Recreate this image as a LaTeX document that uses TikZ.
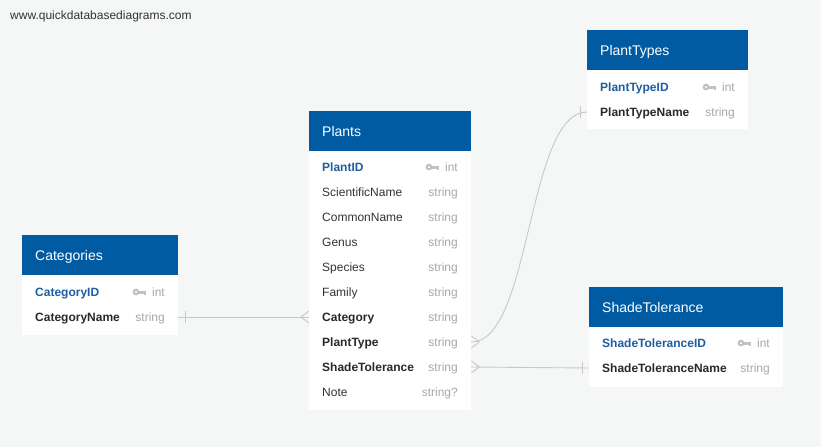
\documentclass[tikz,border=0pt]{standalone}
\usepackage{fontspec}
\setmainfont{Liberation Sans}
\usetikzlibrary{positioning, calc}
\definecolor{headblue}{RGB}{0,91,162}
\definecolor{keyblue}{RGB}{28,94,160}
\definecolor{fieldgray}{RGB}{51,51,51}
\definecolor{typegray}{RGB}{168,168,168}
\definecolor{linkgray}{RGB}{200,200,200}
\definecolor{canvas}{RGB}{245,246,246}
\definecolor{icongray}{RGB}{190,194,198}
\tikzset{
    tablehead/.style={rectangle, fill=headblue, anchor=north west, inner sep=0pt, minimum height=40pt},
    tablebody/.style={rectangle, fill=white, anchor=north west, inner sep=0pt},
    headtext/.style={anchor=west, inner sep=0pt, text=white, text height=10pt, text depth=0pt, font=\fontsize{14}{16}\selectfont},
    field/.style={anchor=west, inner sep=0pt, text=fieldgray, text height=8.6pt, text depth=0pt, font=\fontsize{12}{14}\selectfont},
    pkfield/.style={field, text=keyblue, font=\fontsize{12}{14}\selectfont\bfseries},
    fkfield/.style={field, text=fieldgray!80!black, font=\fontsize{12}{14}\selectfont\bfseries},
    ftype/.style={anchor=east, inner sep=0pt, text=typegray, text height=8.6pt, text depth=0pt, font=\fontsize{12}{14}\selectfont},
    link/.style={draw=linkgray, line width=0.9pt},
    keyicon/.pic={
        \fill[icongray] (-4,0) circle (3.4);
        \fill[white] (-4,0) circle (1.1);
        \fill[icongray] (-1.5,-1.5) rectangle (6.5,1.5);
        \fill[icongray] (3.6,1.5) rectangle (6.5,3.4);
    },
}

\begin{document}
\begin{tikzpicture}[x=1pt, y=-1pt]
    % canvas
    \fill[canvas] (0,0) rectangle (821,447);
    \node[anchor=west, inner sep=0pt, text=fieldgray, font=\fontsize{12}{14}\selectfont] (site) at (10,16) {www.quickdatabasediagrams.com};

    % Plants
    \node[tablehead, minimum width=162pt] (plantshead) at (309,111) {};
    \node[tablebody, minimum width=162pt, minimum height=259pt] (plantsbody) at (309,151) {};
    \node[headtext] (plantstitle) at (322,131) {Plants};
    \node[pkfield] (pid) at (322,167) {PlantID};
    \node[field] (psci) at (322,192) {ScientificName};
    \node[field] (pcom) at (322,217) {CommonName};
    \node[field] (pgen) at (322,242) {Genus};
    \node[field] (pspe) at (322,267) {Species};
    \node[field] (pfam) at (322,292) {Family};
    \node[fkfield] (pcat) at (322,317) {Category};
    \node[fkfield] (ptype) at (322,342) {PlantType};
    \node[fkfield] (pshade) at (322,367) {ShadeTolerance};
    \node[field] (pnote) at (322,392) {Note};
    \node[ftype] (pid-t) at (458,167) {int};
    \node[ftype] (psci-t) at (458,192) {string};
    \node[ftype] (pcom-t) at (458,217) {string};
    \node[ftype] (pgen-t) at (458,242) {string};
    \node[ftype] (pspe-t) at (458,267) {string};
    \node[ftype] (pfam-t) at (458,292) {string};
    \node[ftype] (pcat-t) at (458,317) {string};
    \node[ftype] (ptype-t) at (458,342) {string};
    \node[ftype] (pshade-t) at (458,367) {string};
    \node[ftype] (pnote-t) at (458,392) {string?};
    \pic at ([xshift=-12pt]pid-t.west) {keyicon};

    % Categories
    \node[tablehead, minimum width=156pt] (cathead) at (22,235) {};
    \node[tablebody, minimum width=156pt, minimum height=60pt] (catbody) at (22,275) {};
    \node[headtext] (cattitle) at (35,255) {Categories};
    \node[pkfield] (catid) at (35,292) {CategoryID};
    \node[fkfield] (catname) at (35,317) {CategoryName};
    \node[ftype] (catid-t) at (165,292) {int};
    \node[ftype] (catname-t) at (165,317) {string};
    \pic at ([xshift=-12pt]catid-t.west) {keyicon};

    % PlantTypes
    \node[tablehead, minimum width=161pt] (pthead) at (587,30) {};
    \node[tablebody, minimum width=161pt, minimum height=59pt] (ptbody) at (587,70) {};
    \node[headtext] (pttitle) at (600,50) {PlantTypes};
    \node[pkfield] (ptid) at (600,87) {PlantTypeID};
    \node[fkfield] (ptname) at (600,112) {PlantTypeName};
    \node[ftype] (ptid-t) at (735,87) {int};
    \node[ftype] (ptname-t) at (735,112) {string};
    \pic at ([xshift=-12pt]ptid-t.west) {keyicon};

    % ShadeTolerance
    \node[tablehead, minimum width=194pt] (sthead) at (589,287) {};
    \node[tablebody, minimum width=194pt, minimum height=60pt] (stbody) at (589,327) {};
    \node[headtext] (sttitle) at (602,307) {ShadeTolerance};
    \node[pkfield] (stid) at (602,343) {ShadeToleranceID};
    \node[fkfield] (stname) at (602,368) {ShadeToleranceName};
    \node[ftype] (stid-t) at (770,343) {int};
    \node[ftype] (stname-t) at (770,368) {string};
    \pic at ([xshift=-12pt]stid-t.west) {keyicon};

    % Categories -> Plants
    \draw[link] (catbody.east |- catname.center) coordinate (c1) -- (plantsbody.west |- pcat.center) coordinate (c2);
    \draw[link] ([xshift=7pt]c1) ++(0,-6) -- ++(0,12);
    \draw[link] ([xshift=-8pt]c2) -- ++(8,-6) ([xshift=-8pt]c2) -- ++(8,6);

    % Plants -> PlantTypes
    \draw[link] (plantsbody.east |- ptype.center) coordinate (t1) .. controls +(60,0) and +(-60,0) .. (ptbody.west |- ptname.center) coordinate (t2);
    \draw[link] ([xshift=-7pt]t2) ++(0,-6) -- ++(0,12);
    \draw[link] ([xshift=8pt]t1) -- ++(-8,-6) ([xshift=8pt]t1) -- ++(-8,6);

    % Plants -> ShadeTolerance
    \draw[link] (plantsbody.east |- pshade.center) coordinate (s1) -- (stbody.west |- stname.center) coordinate (s2);
    \draw[link] ([xshift=-7pt]s2) ++(0,-6) -- ++(0,12);
    \draw[link] ([xshift=8pt]s1) -- ++(-8,-6) ([xshift=8pt]s1) -- ++(-8,6);
\end{tikzpicture}
\end{document}
